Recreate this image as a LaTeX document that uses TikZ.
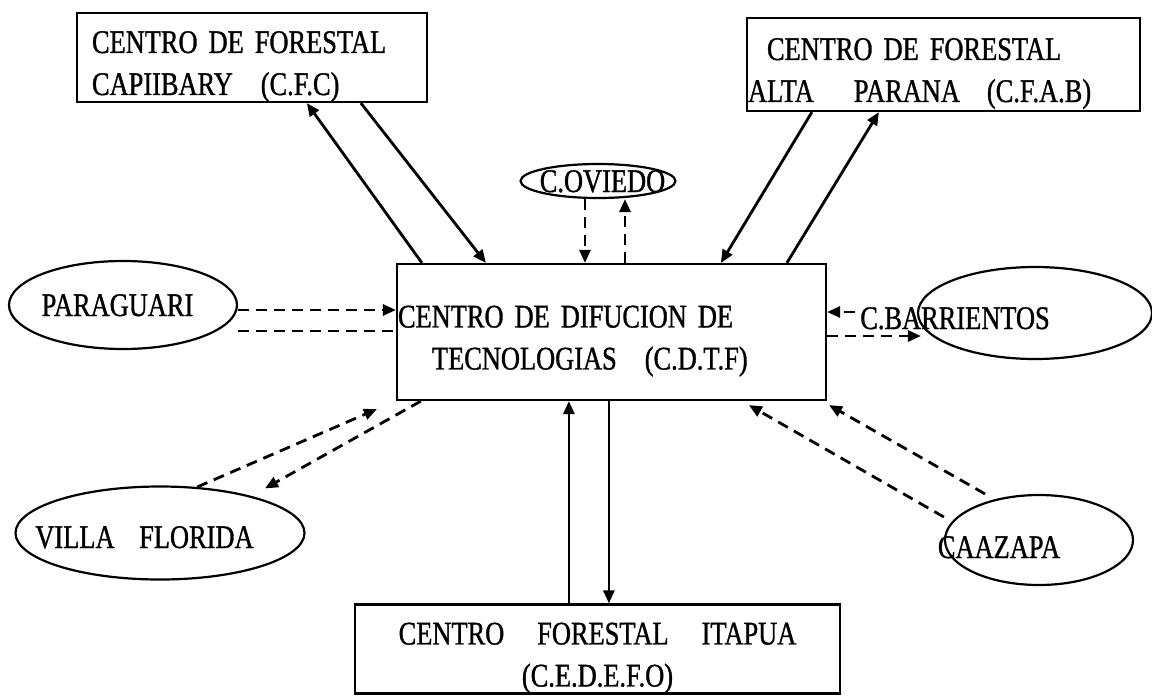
\documentclass[tikz,border=0pt]{standalone}
\usepackage{fontspec}
\setmainfont{Liberation Serif}[FakeStretch=0.8,FakeBold=1,WordSpace=0.4]
\usetikzlibrary{shapes.geometric,arrows.meta}
\newcommand{\zw}[1]{\makebox[0pt]{#1}}
\begin{document}
\begin{tikzpicture}[
   x=1pt,y=-1pt,
   font=\fontsize{33}{42}\selectfont,
   >={Triangle[length=13pt,width=11pt]},
   box/.style={draw,line width=2.2pt,inner sep=0pt,align=left,execute at begin node={\rule{0pt}{40pt}}},
   town/.style={draw,ellipse,line width=2.2pt,inner sep=0pt,text height=22pt,text depth=0pt},
   strong/.style={->,line width=2.8pt},
   weak/.style={->,line width=2.8pt,dash pattern=on 11pt off 7pt}]
\useasboundingbox (0,0) rectangle (1152,697);
\node[box,minimum width=350,minimum height=89,text width=320,execute at begin node={\rule{0pt}{30pt}}] (cfc) at (252,57.5) {CENTRO DE FORESTAL\\CAPIIBARY\hspace{17pt} (C.F.C)};
\node[box,minimum width=393,minimum height=93,text width=391] (cfab) at (943.5,64.5) {\hspace*{19pt}CENTRO DE FORESTAL\\ALTA\hspace{29pt} PARANA\hspace{16pt} (C.F.A.B)};
\node[box,minimum width=429,minimum height=136,text width=427] (cdtf) at (611.5,332) {CENTRO DE DIFUCION DE\\\hspace*{34pt}TECNOLOGIAS\hspace{17pt} (C.D.T.F)};
\node[box,align=center,minimum width=485,minimum height=88,text width=483] (cedefo) at (597.5,649) {CENTRO\hspace{22pt} FORESTAL\hspace{22pt} ITAPUA\\(C.E.D.E.F.O)};
\node[town,minimum width=155,minimum height=34] (oviedo) at (598,181) {\zw{\hspace{9pt}C.OVIEDO}};
\node[town,minimum width=228,minimum height=88] (parag) at (123,305) {\zw{PARAGUARI\hspace{11pt}}};
\node[town,minimum width=234,minimum height=92,text height=32pt] (barr) at (1035,313) {\zw{C.BARRIENTOS\hspace{160pt}}};
\node[town,minimum width=289,minimum height=93,text height=30pt] (villa) at (160,533) {\zw{VILLA\hspace{22pt} FLORIDA\hspace{31pt}}};
\node[town,minimum width=188,minimum height=90,text height=36pt] (caaz) at (1039,540) {\zw{CAAZAPA\hspace{80pt}}};
\coordinate (ovd) at ([xshift=-13]oviedo.south);
\coordinate (ovu) at ([xshift=27]oviedo.south);
\coordinate (pg1) at ([yshift=-5]parag.east);
\coordinate (pg2) at ([yshift=-26]parag.east);
\coordinate (br1) at ([xshift=-62,yshift=1]barr.west);
\coordinate (br2) at ([xshift=4,yshift=-23]barr.west);
\coordinate (cd1) at ([xshift=215]cedefo.north west);
\coordinate (cd2) at ([xshift=255]cedefo.north west);
\draw[strong] ([xshift=26]cdtf.north west) -- ([xshift=231]cfc.south west);
\draw[strong] ([xshift=285]cfc.south west) -- ([xshift=90]cdtf.north west);
\draw[strong] ([xshift=66]cfab.south west) -- ([xshift=325]cdtf.north west);
\draw[strong] ([xshift=391]cdtf.north west) -- ([xshift=133]cfab.south west);
\draw[weak] (ovd) -- (ovd |- cdtf.north);
\draw[weak] (ovu |- cdtf.north) -- (ovu);
\draw[weak] (pg1) -- (pg1 -| cdtf.west);
\draw[weak,-] (pg2) -- (pg2 -| cdtf.west);
\draw[weak] (br1) -- (br1 -| cdtf.east);
\draw[weak] (br2 -| cdtf.east) -- (br2);
\draw[weak] (villa.51) -- ([xshift=-19,yshift=-8]cdtf.south west);
\draw[weak] ([xshift=25]cdtf.south west) -- ([xshift=105,yshift=-3]villa.north);
\draw[weak] ([yshift=23]caaz.west) -- ([xshift=353,yshift=-4]cdtf.south west);
\draw[weak] ([xshift=-54]caaz.north) -- ([xshift=2,yshift=-4]cdtf.south east);
\draw[strong] (cd1) -- (cd1 |- cdtf.south);
\draw[strong] (cd2 |- cdtf.south) -- (cd2);
\end{tikzpicture}
\end{document}
